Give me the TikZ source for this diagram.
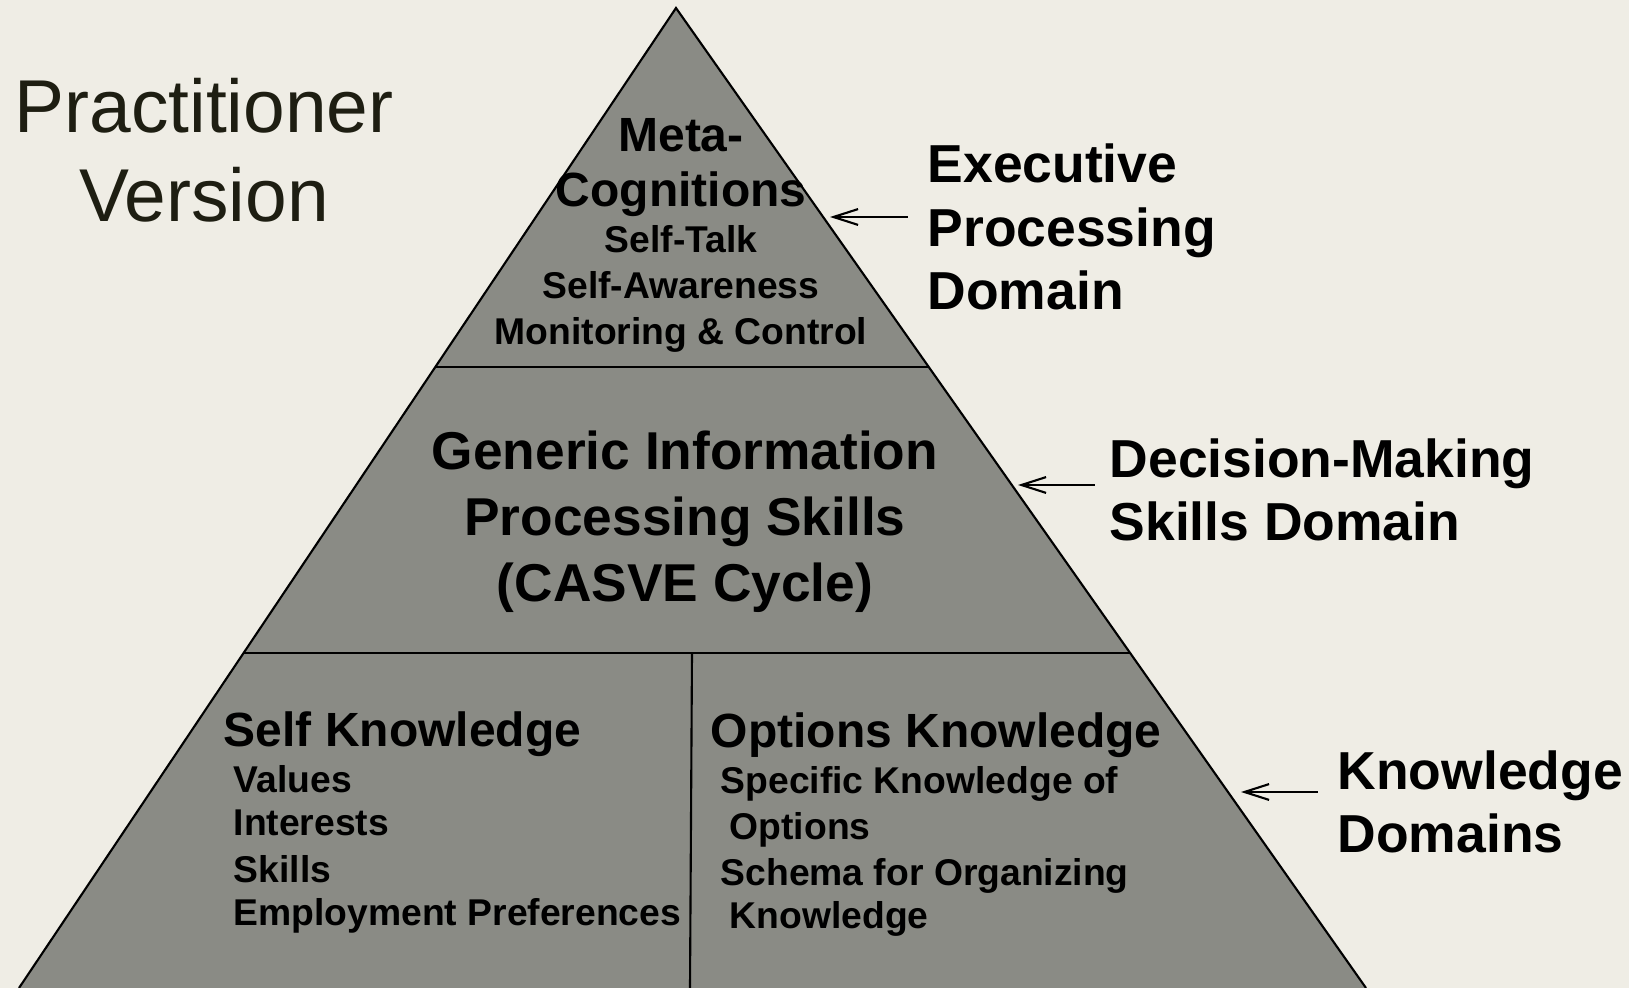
\documentclass[tikz,border=0pt]{standalone}
\usepackage{fontspec}
\setmainfont{Liberation Sans}
\usetikzlibrary{arrows.meta}

\definecolor{bgcream}{HTML}{EFEDE5}
\definecolor{pyrgray}{HTML}{8A8B85}
\definecolor{titleink}{HTML}{1E1E12}

\tikzset{
    edge/.style={draw=black, line width=0.6pt},
    title/.style={font=\fontsize{21.3pt}{25pt}\selectfont, text=titleink, anchor=base, inner sep=0pt},
    head/.style={font=\fontsize{13.65pt}{16pt}\selectfont\bfseries, inner sep=0pt},
    big/.style={font=\fontsize{15.15pt}{18pt}\selectfont\bfseries, anchor=base, inner sep=0pt},
    item/.style={font=\fontsize{10.6pt}{12pt}\selectfont\bfseries, inner sep=0pt},
    domainlabel/.style={font=\fontsize{15.2pt}{18pt}\selectfont\bfseries, anchor=base west, inner sep=0pt},
    pointer/.style={-{Straight Barb[length=7pt,width=4.5pt]}, line width=0.6pt}
}

\begin{document}
\begin{tikzpicture}[x=0.01cm, y=-0.01cm]
    % Canvas
    \useasboundingbox (0,0) rectangle (1629,988);
    \fill[bgcream] (0,0) rectangle (1629,988);

    % Pyramid corners and tier boundaries
    \coordinate (T) at (676,8);
    \coordinate (BL) at (19,988);
    \coordinate (BR) at (1366,988);
    \path (T) -- (BL) coordinate[pos=0.3663] (L1) coordinate[pos=0.658] (L2);
    \path (T) -- (BR) coordinate[pos=0.3663] (R1) coordinate[pos=0.658] (R2);
    \coordinate (M) at (692,653);
    \coordinate (MB) at (690,988);

    % Pyramid
    \fill[pyrgray] (T) -- (BL) -- (BR) -- cycle;
    \draw[edge] (BL) -- (T) -- (BR);
    \draw[edge] (L1) -- (R1);
    \draw[edge] (L2) -- (R2);
    \draw[edge] (M) -- (MB);

    % Title
    \node[title] (prac) at (204,133) {Practitioner};
    \node[title] (vers) at (204,222) {Version};

    % Top tier
    \node[head, anchor=base] (meta1) at (681,152) {Meta-};
    \node[head, anchor=base] (meta2) at (681,207) {Cognitions};
    \node[item, anchor=base] (talk) at (681,253) {Self-Talk};
    \node[item, anchor=base] (aware) at (681,299) {Self-Awareness};
    \node[item, anchor=base] (monit) at (681,345) {Monitoring \& Control};

    % Middle tier
    \node[big] (gen1) at (685,470) {Generic Information};
    \node[big] (gen2) at (685,536) {Processing Skills};
    \node[big] (gen3) at (685,601) {(CASVE Cycle)};

    % Bottom tier, left
    \node[head, anchor=base west] (self) at (223,746) {Self Knowledge};
    \node[item, anchor=base west] (val) at (233,792) {Values};
    \node[item, anchor=base west] (intr) at (233,836) {Interests};
    \node[item, anchor=base west] (skl) at (233,882) {Skills};
    \node[item, anchor=base west] (empl) at (233,925) {Employment Preferences};

    % Bottom tier, right
    \node[head, anchor=base west] (opt) at (710,748) {Options Knowledge};
    \node[item, anchor=base west] (spec1) at (720,793) {Specific Knowledge of};
    \node[item, anchor=base west] (spec2) at (729,840) {Options};
    \node[item, anchor=base west] (sch1) at (720,885) {Schema for Organizing};
    \node[item, anchor=base west] (sch2) at (729,928) {Knowledge};

    % Domain labels
    \node[domainlabel] (exe1) at (927,183) {Executive};
    \node[domainlabel] (exe2) at (927,247) {Processing};
    \node[domainlabel] (exe3) at (927,310) {Domain};
    \node[domainlabel] (dec1) at (1109,478) {Decision-Making};
    \node[domainlabel] (dec2) at (1109,541) {Skills Domain};
    \node[domainlabel] (kno1) at (1337,789) {Knowledge};
    \node[domainlabel] (kno2) at (1337,853) {Domains};

    % Pointers to the tiers
    \coordinate (pExe) at (830,217);
    \coordinate (pDec) at (1018,485);
    \coordinate (pKno) at (1241,792);
    \draw[pointer] ([xshift=-5.5pt]exe1.west |- pExe) -- (pExe);
    \draw[pointer] ([xshift=-4pt]dec1.west |- pDec) -- (pDec);
    \draw[pointer] ([xshift=-5.5pt]kno1.west |- pKno) -- (pKno);
\end{tikzpicture}
\end{document}
